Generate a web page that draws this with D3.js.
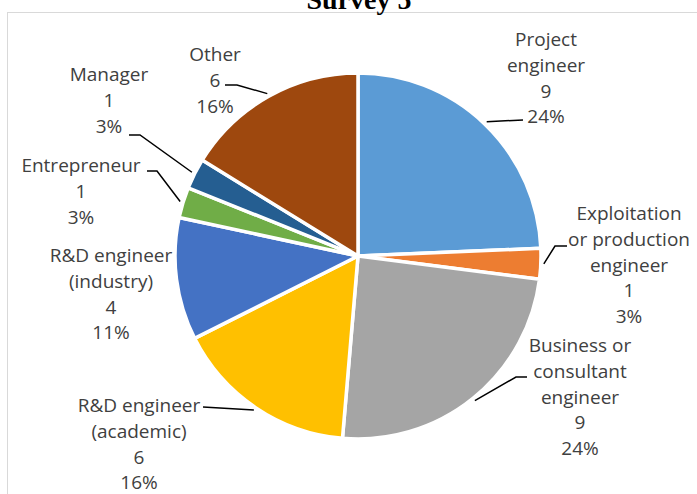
<!DOCTYPE html>
<html>
<head>
<meta charset="utf-8">
<script src="https://cdn.jsdelivr.net/npm/d3@7/dist/d3.min.js"></script>
<style>
    html, body { margin: 0; padding: 0; background: #fff; overflow: hidden; }
    svg { display: block; }
</style>
</head>
<body>
<svg id="chart" width="697" height="494"></svg>
<script>
var categories = [
    'Project engineer',
    'Exploitation or production engineer',
    'Business or consultant engineer',
    'R&D engineer (academic)',
    'R&D engineer (industry)',
    'Entrepreneur',
    'Manager',
    'Other'
];
var counts = [9, 1, 9, 6, 4, 1, 1, 6];
var percentLabels = ['24%', '3%', '24%', '16%', '11%', '3%', '3%', '16%'];
var labelLines = [
    ['Project', 'engineer'],
    ['Exploitation', 'or production', 'engineer'],
    ['Business or', 'consultant', 'engineer'],
    ['R&D engineer', '(academic)'],
    ['R&D engineer', '(industry)'],
    ['Entrepreneur'],
    ['Manager'],
    ['Other']
];
var colors = ['#5b9bd5', '#ed7d31', '#a5a5a5', '#ffc000', '#4472c4', '#70ad47', '#255e91', '#9e480e'];

// where excel put the labels by hand: centre x, first baseline, leader bend + end
var labelLayout = [
    {x: 546, y: 46, leader: [[523, 120]]},
    {x: 629, y: 220, leader: [[555, 246], [567, 246]]},
    {x: 580, y: 352, leader: [[516, 377], [527, 377]]},
    {x: 139, y: 412, leader: [[203, 407]]},
    {x: 111, y: 262, leader: null},
    {x: 81, y: 172, leader: [[157, 171], [147, 171]]},
    {x: 109, y: 81, leader: [[140, 135], [129, 135]]},
    {x: 215, y: 61, leader: [[237, 85], [225, 85]]}
];

var width = 697,
    height = 494,
    cx = 358,
    cy = 256,
    radius = 183,
    lineHeight = 25.8;

var svg = d3.select('#chart');

// chart frame, runs off the right and bottom edge
svg.append('rect')
    .attr('x', 7.5)
    .attr('y', 12.5)
    .attr('width', width + 20)
    .attr('height', height + 20)
    .attr('fill', 'none')
    .attr('stroke', '#d9d9d9');

svg.append('text')
    .attr('x', 359)
    .attr('y', 9)
    .attr('text-anchor', 'middle')
    .attr('font-family', '"Liberation Serif", "Times New Roman", serif')
    .attr('font-weight', 'bold')
    .attr('font-size', 28)
    .attr('fill', '#000')
    .text('Survey 5');

var pie = d3.pie().sort(null).value(function(d) { return d; });
var arcs = pie(counts);

var arc = d3.arc().innerRadius(0).outerRadius(radius);

var g = svg.append('g').attr('transform', 'translate(' + cx + ',' + cy + ')');

g.selectAll('path.slice')
    .data(arcs)
    .enter()
    .append('path')
        .attr('class', 'slice')
        .attr('d', arc)
        .attr('fill', function(d, i) { return colors[i]; })
        .attr('stroke', '#fff')
        .attr('stroke-width', 3.5)
        .attr('stroke-linejoin', 'round');

// leader lines start on the rim at each slice's middle angle
var rimArc = d3.arc().innerRadius(radius + 3).outerRadius(radius + 3);
var line = d3.line();

arcs.forEach(function(d, i) {
    var lay = labelLayout[i];
    if (!lay.leader) {
        return;
    }
    var c = rimArc.centroid(d);
    var pts = [[cx + c[0], cy + c[1]]].concat(lay.leader);
    svg.append('path')
        .attr('d', line(pts))
        .attr('fill', 'none')
        .attr('stroke', '#000')
        .attr('stroke-width', 1.5);
});

var labels = svg.selectAll('text.label')
    .data(arcs)
    .enter()
    .append('text')
        .attr('class', 'label')
        .attr('text-anchor', 'middle')
        .attr('font-family', '"Open Sans", "Noto Sans", sans-serif')
        .attr('font-size', 19)
        .attr('fill', '#404040');

labels.each(function(d, i) {
    var lay = labelLayout[i];
    var lines = labelLines[i].concat([String(counts[i]), percentLabels[i]]);
    var t = d3.select(this);
    lines.forEach(function(s, k) {
        t.append('tspan')
            .attr('x', lay.x)
            .attr('y', lay.y + k * lineHeight)
            .text(s);
    });
});
</script>
</body>
</html>
